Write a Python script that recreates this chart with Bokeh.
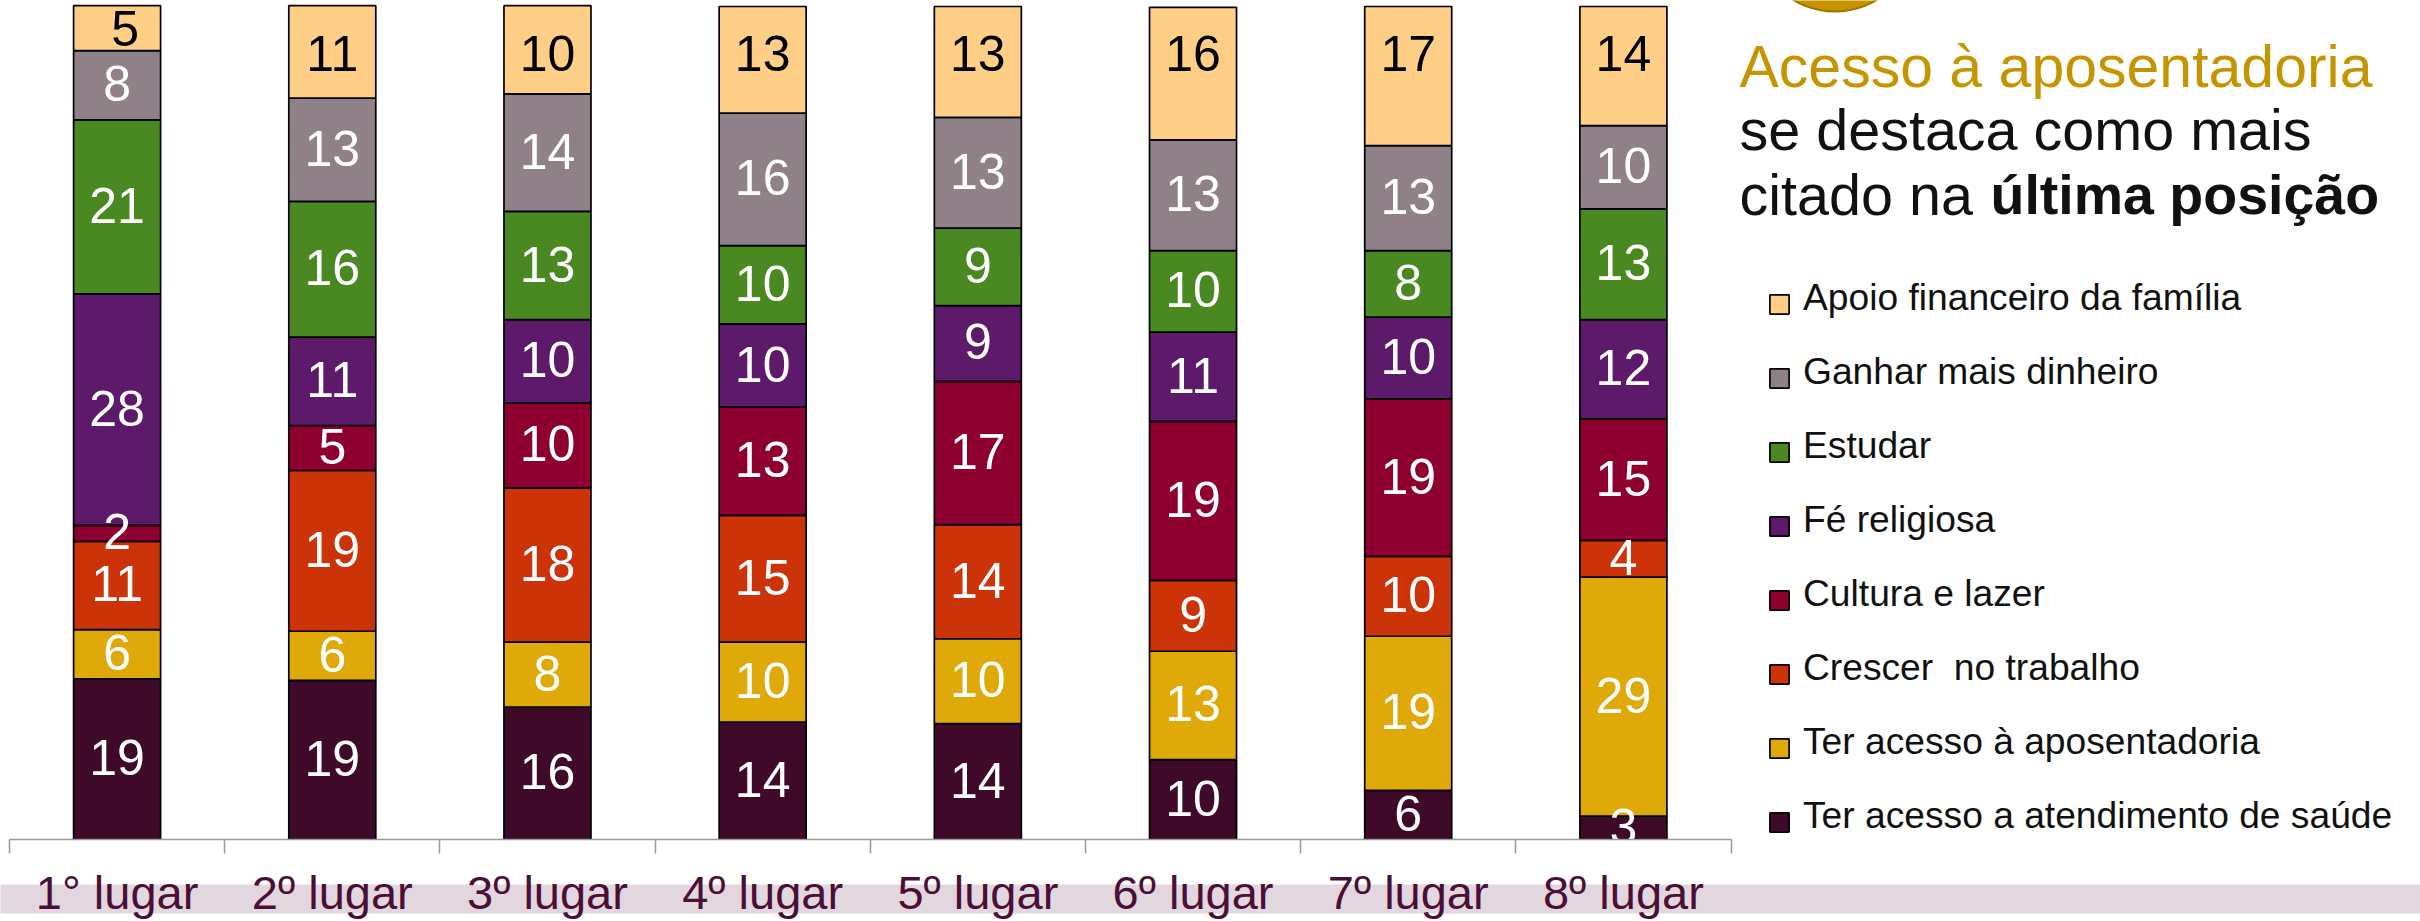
from bokeh.plotting import figure
from bokeh.models import (Range1d, ColumnDataSource, FixedTicker, LinearAxis,
                          Label, Legend, LegendItem)
from bokeh.core.properties import value
from bokeh.embed import file_html
from bokeh.resources import INLINE

places = ["1° lugar", "2º lugar", "3º lugar", "4º lugar", "5º lugar", "6º lugar", "7º lugar", "8º lugar"]
names = ["Ter acesso a atendimento de saúde", "Ter acesso à aposentadoria", "Crescer  no trabalho",
         "Cultura e lazer", "Fé religiosa", "Estudar", "Ganhar mais dinheiro", "Apoio financeiro da família"]
colors = ["#3F0A2A", "#DFA90A", "#CC3308", "#8E002F", "#5E1A6A", "#4A8822", "#8F8187", "#FFCF87"]

saude = [19.3, 19.1, 15.9, 14.1, 13.9, 9.6, 5.9, 2.8]
aposentadoria = [5.9, 5.9, 7.8, 9.6, 10.2, 13.0, 18.5, 28.7]
crescer = [10.6, 19.3, 18.5, 15.2, 13.7, 8.5, 9.6, 4.4]
cultura = [1.9, 5.4, 10.2, 13.0, 17.2, 19.1, 18.9, 14.6]
fe = [27.8, 10.6, 10.0, 10.0, 9.1, 10.7, 9.8, 11.9]
estudar = [20.9, 16.3, 13.0, 9.4, 9.3, 9.8, 8.0, 13.3]
ganhar = [8.3, 12.4, 14.1, 15.9, 13.3, 13.3, 12.6, 10.0]
apoio = [5.4, 11.1, 10.6, 12.8, 13.3, 15.9, 16.7, 14.3]

saude_lbl = [19, 19, 16, 14, 14, 10, 6, 3]
aposentadoria_lbl = [6, 6, 8, 10, 10, 13, 19, 29]
crescer_lbl = [11, 19, 18, 15, 14, 9, 10, 4]
cultura_lbl = [2, 5, 10, 13, 17, 19, 19, 15]
fe_lbl = [28, 11, 10, 10, 9, 11, 10, 12]
estudar_lbl = [21, 16, 13, 10, 9, 10, 8, 13]
ganhar_lbl = [8, 13, 14, 16, 13, 13, 13, 10]
apoio_lbl = [5, 11, 10, 13, 13, 16, 17, 14]

series = [saude, aposentadoria, crescer, cultura, fe, estudar, ganhar, apoio]
labels = [saude_lbl, aposentadoria_lbl, crescer_lbl, cultura_lbl, fe_lbl, estudar_lbl, ganhar_lbl, apoio_lbl]

W, H = 2420, 921
AXIS_Y = 839
AX_L, AX_R = 9.0, 1730.5
UX = (AX_R - AX_L) / 8
UY = (AXIS_Y - 6) / 100.0
FONT = "Liberation Sans"

x0 = -0.5 - AX_L / UX
y1 = 6 / UY + 100


def px_y(py):
    return (AXIS_Y - py) / UY


p = figure(width=W, height=H, output_backend="svg", toolbar_location=None,
           x_range=Range1d(x0, x0 + W / UX), y_range=Range1d(0, y1),
           x_axis_location=None, y_axis_location=None,
           min_border_left=0, min_border_right=0, min_border_top=0, min_border_bottom=H - AXIS_Y,
           outline_line_color=None, background_fill_color="white", border_fill_color="white")
p.grid.visible = False

# pale band behind the place names, below the frame
p.quad(left=[x0], right=[x0 + W / UX], top=[px_y(884)], bottom=[px_y(913)],
       fill_color="#E2D7DE", line_color=None, level="annotation")

centers = list(range(8))
bounds = [i - 0.5 for i in range(9)]
axis = LinearAxis(ticker=FixedTicker(ticks=centers, minor_ticks=bounds),
                  major_label_overrides={i: places[i] for i in centers},
                  bounds=(-0.5, 7.5), level="overlay",
                  axis_line_color="#999999", axis_line_width=1.5,
                  major_tick_line_color=None, major_tick_in=0, major_tick_out=0,
                  minor_tick_line_color="#999999", minor_tick_line_width=1.5,
                  minor_tick_in=0, minor_tick_out=14,
                  major_label_text_font=FONT, major_label_text_font_size="47px",
                  major_label_text_color="#4B0F37", major_label_standoff=12)
p.add_layout(axis, "below")

cum = [0.0] * 8
rends = []
for vals, lbls, name, col in zip(series, labels, names, colors):
    src = ColumnDataSource(dict(x=centers, bottom=cum, top=[c + v for c, v in zip(cum, vals)]))
    r = p.vbar(x="x", bottom="bottom", top="top", width=87 / UX, source=src,
               fill_color=col, line_color="black", line_width=1.7)
    rends.append(r)
    is_top = name == names[7]
    # the top series' labels share one height in the reference, the narrow first one sits above it
    mid = [px_y(29 if i == 0 else 54) for i in centers] if is_top else [c + v / 2 for c, v in zip(cum, vals)]
    offs = [8 if (is_top and i == 0) else 0 for i in centers]
    lsrc = ColumnDataSource(dict(x=centers, y=mid, t=[str(l) for l in lbls], o=offs))
    p.text(x="x", y="y", text="t", x_offset="o", y_offset=-1.5, source=lsrc, text_align="center",
           text_baseline="middle", text_font=value(FONT), text_font_size="50px",
           text_color="black" if is_top else "white", level="overlay")
    cum = [c + v for c, v in zip(cum, vals)]

# medallion cropped at the top of the picture
p.scatter(x=[(1834.5 - AX_L) / UX - 0.5], y=[px_y(-70)], size=162, marker="circle",
          fill_color="#C69200", line_color="#9A7500", line_width=2)

# the reference's legend texts sit a little above their swatches: names and swatches are two legends
legend_names = Legend(items=[LegendItem(label=n, renderers=[r]) for n, r in zip(names[::-1], rends[::-1])],
                      location=(1772, 2), orientation="vertical",
                      background_fill_alpha=0, border_line_color=None, margin=0, padding=0,
                      glyph_width=1, glyph_height=1, label_standoff=30, spacing=31,
                      label_text_font=FONT, label_text_font_size="37.2px", label_text_color="#111111")
p.add_layout(legend_names)
legend_swatches = Legend(items=[LegendItem(label="", renderers=[r]) for r in rends[::-1]],
                         location=(1767, 5), orientation="vertical",
                         background_fill_alpha=0, border_line_color=None, margin=0, padding=0,
                         glyph_width=24, glyph_height=24, label_standoff=0, label_width=0, label_height=24,
                         spacing=50, label_text_font_size="1px")
p.add_layout(legend_swatches)

for txt, x, y, col, st, fs in [("Acesso à aposentadoria", 1739, 66, "#C69400", "normal", "59px"),
                               ("se destaca como mais", 1739, 129, "#111111", "normal", "57.5px"),
                               ("citado na ", 1739, 194, "#111111", "normal", "57.5px"),
                               ("última posição", 1990, 194, "#111111", "bold", "55.5px")]:
    p.add_layout(Label(x=x, y=AXIS_Y - y, x_units="screen", y_units="screen", text=txt,
                       text_font=FONT, text_font_size=fs, text_color=col, text_font_style=st,
                       text_baseline="alphabetic"))

open("out.html", "w").write(file_html(p, INLINE))
